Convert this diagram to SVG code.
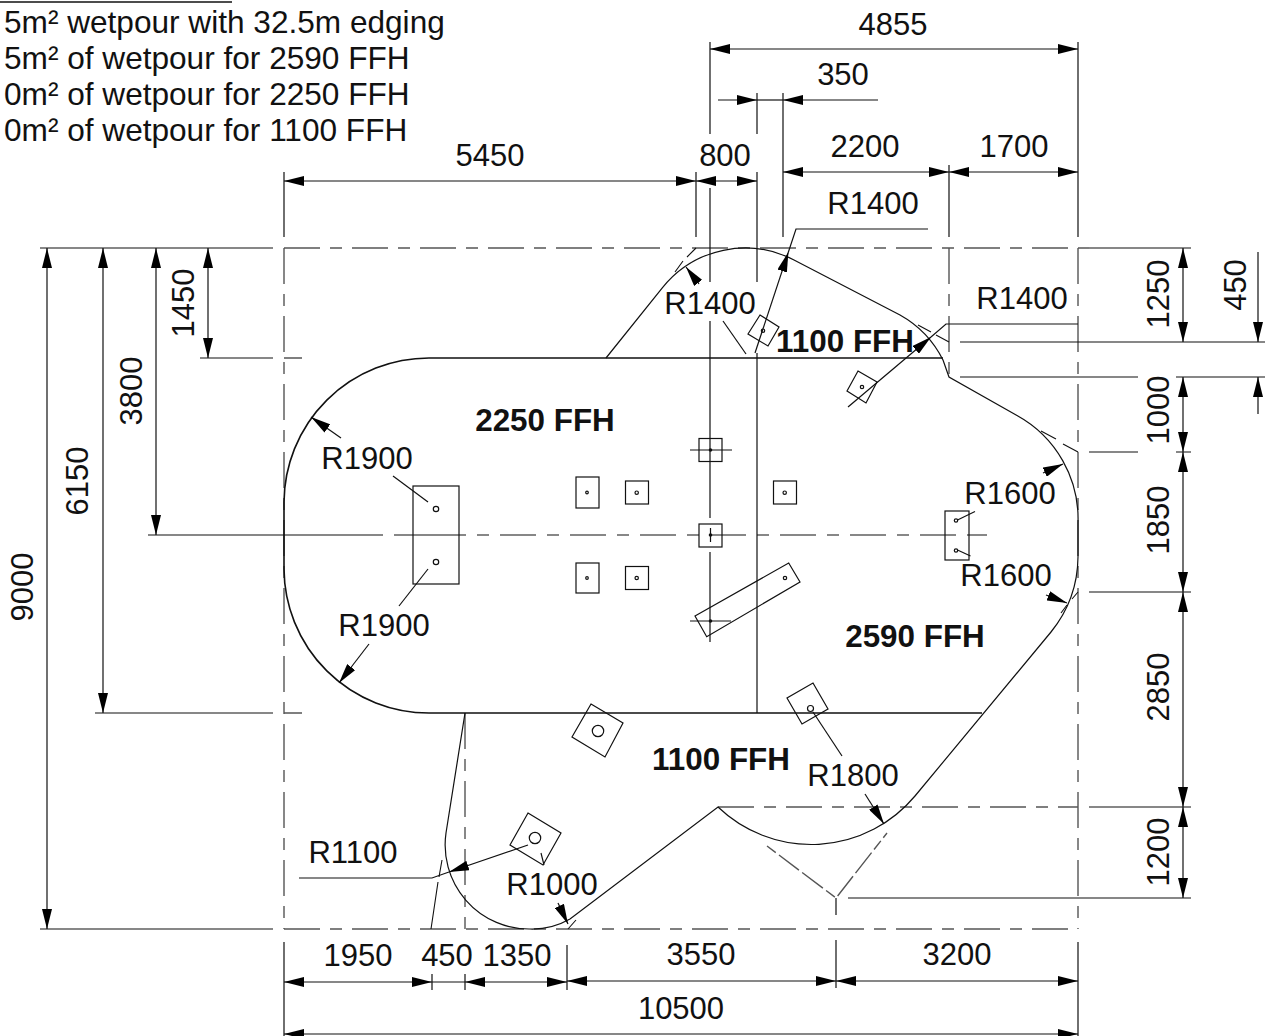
<svg xmlns="http://www.w3.org/2000/svg" width="1265" height="1036" viewBox="0 0 1265 1036">
<style>
text{font-family:"Liberation Sans",Arial,sans-serif;font-size:31px;fill:#111;text-anchor:middle}
.h{text-anchor:start;font-size:31.6px}
.b{font-weight:bold;font-size:31.4px}
.l,.a,.da,.d,.c{fill:none;stroke:#111;stroke-width:1.2}
.a{marker-end:url(#ah)}
.da{marker-start:url(#as);marker-end:url(#ah)}
.d{stroke:#555;stroke-width:1.4;stroke-dasharray:36 10 12 10}
.c{stroke-width:1.1}
.o{fill:none;stroke:#111;stroke-width:1.2}
.m{fill:none;stroke:#111;stroke-width:1.6}
</style>
<defs>
<marker id="ah" markerUnits="userSpaceOnUse" markerWidth="20" markerHeight="10" refX="20" refY="5" orient="auto"><path d="M0 0L20 5L0 10z" fill="#000"/></marker>
<marker id="as" markerUnits="userSpaceOnUse" markerWidth="20" markerHeight="10" refX="0" refY="5" orient="auto"><path d="M20 0L0 5L20 10z" fill="#000"/></marker>
</defs>
<rect width="1265" height="1036" fill="#fff"/>

<g id="notes">
<line class="m" x1="0" y1="2" x2="232" y2="2"/>
<text class="h" x="4" y="33">5m² wetpour with 32.5m edging</text>
<text class="h" x="4" y="69">5m² of wetpour for 2590 FFH</text>
<text class="h" x="4" y="105">0m² of wetpour for 2250 FFH</text>
<text class="h" x="4" y="141">0m² of wetpour for 1100 FFH</text>
</g>

<g id="setout-lines">
<path class="d" d="M284 248H1089M284 248V929M284 929H1078M1078 248V929M949 248V377M465 713V929M718 807H1078M284 358H302M284 713H302"/>
<path class="c" style="stroke-dasharray:36 11 12 11" d="M430 535H968"/>
<path class="c" d="M148 535H383M394 535H430M968 535H987"/>
<path class="l" d="M710 188V282M710 321V518M710 552V642M757 172V282M757 353V713M757 93V134M783 93V237"/>
<path class="d" style="stroke-dasharray:11 4 25 4 26 4" d="M767 846L836 898L887 833"/>
<path class="c" d="M696 248L687 257M683 261L675 272M949 342L936 335M931 332L918 325M1041 431L1056 439M1063 444L1078 452M1078 592L1072 599M1067 605L1061 613M568 929L576 920M442 860L439 877M438 882L431 929"/>
</g>

<g id="outline">
<path class="o" d="M606 358L662.5 287.6A106 106 0 0 1 794 260L900 315A106 106 0 0 1 943 360L949 377L1017 415.5A118 118 0 0 1 1078 523V557A121 121 0 0 1 1051 632L915 796A135 135 0 0 1 718 807L570 919A76 76 0 0 1 530 929A84 84 0 0 1 446 833L465 713"/>
<path class="m" d="M982 713H429A145 145 0 0 1 284 569V502A145 145 0 0 1 429 358H943"/>
</g>

<g id="bases">
<rect class="o" x="413" y="486" width="46" height="98"/><circle class="o" cx="436" cy="509" r="2.7"/><circle class="o" cx="436" cy="562" r="2.7"/>
<rect class="o" x="945" y="511" width="24" height="49"/><circle class="o" cx="956" cy="520.5" r="1.7"/><circle class="o" cx="956" cy="550.5" r="1.7"/>
<rect class="o" x="576" y="477" width="23" height="31"/><circle class="o" cx="587" cy="492.5" r="1.3"/>
<rect class="o" x="576" y="563" width="23" height="30"/><circle class="o" cx="587" cy="578" r="1.3"/>
<rect class="o" x="625.5" y="481" width="23" height="23"/><circle class="o" cx="636.7" cy="492.7" r="1.7"/>
<rect class="o" x="625.5" y="566.5" width="23" height="23"/><circle class="o" cx="636.7" cy="578" r="1.7"/>
<rect class="o" x="773.5" y="481" width="23" height="23"/><circle class="o" cx="784.7" cy="492.7" r="1.7"/>
<rect class="o" x="699" y="438.5" width="23" height="23"/><circle cx="710.5" cy="450" r="1.8" fill="#111"/><line class="l" x1="690" y1="450" x2="732" y2="450"/>
<rect class="o" x="699" y="524" width="23" height="23"/><circle cx="710.5" cy="535" r="1.8" fill="#111"/><line class="l" x1="710.5" y1="528" x2="710.5" y2="542"/>
<polygon class="o" points="695,616 788.7,563 800,582 706.7,636.7"/><circle class="o" cx="785" cy="578" r="1.7"/><circle cx="710.5" cy="621" r="1.8" fill="#111"/><line class="l" x1="690" y1="621" x2="731" y2="621"/>
<polygon class="o" points="760,315 779,327 768,346 748,334"/><circle class="o" cx="763" cy="330.7" r="1.7"/>
<polygon class="o" points="858,371 877,382 866,403 847,391"/><circle class="o" cx="862" cy="387" r="1.7"/>
<polygon class="o" points="591,704 623,723 605,757 572,737"/><circle class="o" cx="598" cy="731" r="5.7"/>
<polygon class="o" points="528,813 561,833 543,865 510,845"/><circle class="o" cx="535" cy="838" r="5.7"/>
<polygon class="o" points="813,683 828,709 802,724 787,698"/><circle class="o" cx="810.5" cy="708.5" r="3"/>
</g>

<g id="connectors">
<path class="l" d="M710 42V134M1078 42V237M284 172V237M696 172V237M949 165V237M40 248H273M200 358H273M95 713H273M40 929H273M1089 248H1191M960 342H1265M960 377H1138M1176 377H1265M1089 452H1138M1176 452H1191M1089 592H1191M1089 807H1191M848 898H1191M836 898V915M284 942V1036M432 974V990M465 974V990M567 945V990M836 940V988M1078 942V1036"/>
<line class="da" x1="710" y1="49" x2="1078" y2="49"/>
<line class="da" x1="284" y1="181" x2="696" y2="181"/>
<line class="da" x1="696" y1="181" x2="757" y2="181"/>
<line class="da" x1="783" y1="172" x2="949" y2="172"/>
<line class="da" x1="949" y1="172" x2="1078" y2="172"/>
<line class="a" x1="718" y1="100" x2="757" y2="100"/>
<line class="a" x1="878" y1="100" x2="783" y2="100"/>
<line class="l" x1="757" y1="100" x2="783" y2="100"/>
<line class="da" x1="284" y1="982" x2="432" y2="982"/>
<line class="l" x1="432" y1="982" x2="465" y2="982"/>
<line class="da" x1="465" y1="982" x2="567" y2="982"/>
<line class="da" x1="567" y1="981" x2="836" y2="981"/>
<line class="da" x1="836" y1="981" x2="1078" y2="981"/>
<line class="da" x1="284" y1="1034" x2="1078" y2="1034"/>
<line class="da" x1="47" y1="248" x2="47" y2="929"/>
<line class="da" x1="103" y1="248" x2="103" y2="713"/>
<line class="da" x1="156" y1="248" x2="156" y2="535"/>
<line class="da" x1="208" y1="248" x2="208" y2="358"/>
<line class="da" x1="1183" y1="248" x2="1183" y2="342"/>
<line class="da" x1="1183" y1="377" x2="1183" y2="452"/>
<line class="da" x1="1183" y1="452" x2="1183" y2="592"/>
<line class="da" x1="1183" y1="592" x2="1183" y2="807"/>
<line class="da" x1="1183" y1="807" x2="1183" y2="898"/>
<line class="a" x1="1258" y1="252" x2="1258" y2="342"/>
<line class="a" x1="1258" y1="414" x2="1258" y2="377"/>
<line class="a" x1="341" y1="438" x2="311" y2="417"/>
<line class="l" x1="393" y1="476" x2="428" y2="502"/>
<line class="l" x1="428" y1="569" x2="399" y2="606"/>
<line class="a" x1="369" y1="644" x2="339" y2="683"/>
<line class="l" x1="957.5" y1="520" x2="975" y2="511.5"/>
<line class="l" x1="957.5" y1="550" x2="970.5" y2="556"/>
<line class="a" x1="1043" y1="473" x2="1063" y2="464"/>
<line class="a" x1="1046" y1="595" x2="1067" y2="603"/>
<line class="a" x1="699" y1="284" x2="686" y2="267"/>
<line class="l" x1="723" y1="321" x2="746" y2="354"/>
<line class="a" x1="755" y1="353" x2="788.4" y2="252"/>
<path class="l" d="M788.4 252L796 229H928"/>
<line class="a" x1="848" y1="407" x2="931" y2="337"/>
<path class="l" d="M931 337L946 324H1078"/>
<line class="a" x1="528" y1="845" x2="449" y2="872"/>
<path class="l" d="M449 872L432 878H299"/>
<line class="l" x1="541" y1="853" x2="544" y2="865"/>
<line class="a" x1="558" y1="903" x2="568" y2="924"/>
<line class="l" x1="813" y1="712" x2="842" y2="756"/>
<line class="a" x1="865" y1="794" x2="884" y2="824"/>
</g>

<g id="labels">
<text x="490" y="166">5450</text><text x="725" y="166">800</text><text x="843" y="85">350</text><text x="893" y="35">4855</text>
<text x="865" y="157">2200</text><text x="1014" y="157">1700</text>
<text x="873" y="214">R1400</text><text x="710" y="314">R1400</text><text x="1022" y="309">R1400</text>
<text class="b" x="545" y="431">2250 FFH</text><text class="b" x="845" y="352">1100 FFH</text><text class="b" x="915" y="647">2590 FFH</text><text class="b" x="721" y="770">1100 FFH</text>
<text x="367" y="469">R1900</text><text x="384" y="636">R1900</text><text x="1010" y="504">R1600</text><text x="1006" y="586">R1600</text>
<text x="853" y="786">R1800</text><text x="353" y="863">R1100</text><text x="552" y="895">R1000</text>
<text x="358" y="966">1950</text><text x="447" y="966">450</text><text x="517" y="966">1350</text><text x="701" y="965">3550</text><text x="957" y="965">3200</text><text x="681" y="1019">10500</text>
<text transform="translate(1169 294) rotate(-90)">1250</text>
<text transform="translate(1246 285) rotate(-90)">450</text>
<text transform="translate(1169 410) rotate(-90)">1000</text>
<text transform="translate(1169 520) rotate(-90)">1850</text>
<text transform="translate(1169 687) rotate(-90)">2850</text>
<text transform="translate(1169 852) rotate(-90)">1200</text>
<text transform="translate(33 587) rotate(-90)">9000</text>
<text transform="translate(88 481) rotate(-90)">6150</text>
<text transform="translate(142 391) rotate(-90)">3800</text>
<text transform="translate(194 303) rotate(-90)">1450</text>
</g>
</svg>
